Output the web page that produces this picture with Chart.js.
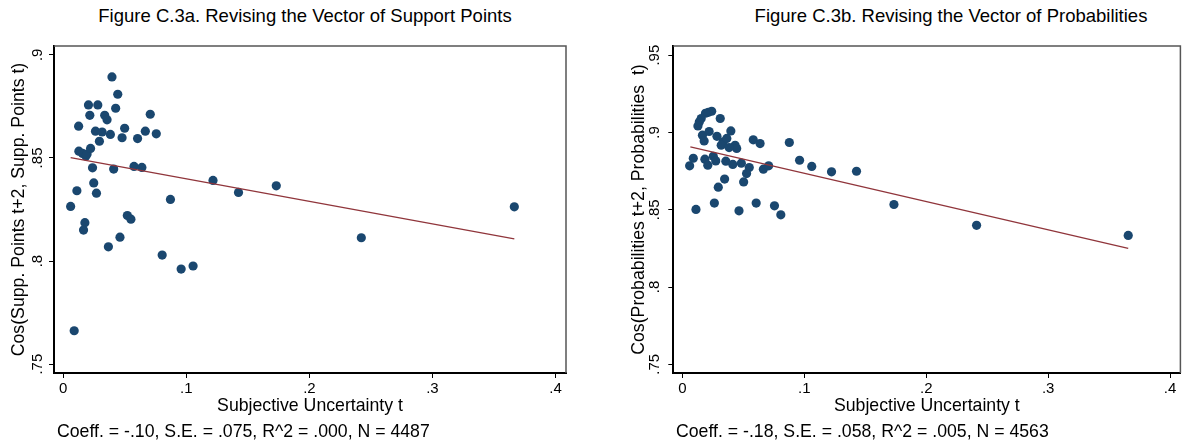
<!DOCTYPE html>
<html>
<head>
<meta charset="utf-8">
<script src="https://cdn.jsdelivr.net/npm/chart.js@4.4.0/dist/chart.umd.min.js"></script>
<style>
  body { margin: 0; width: 1185px; height: 444px; background: #fff; position: relative; overflow: hidden; font-family: "Liberation Sans", Arial, sans-serif; }
  .panel { position: absolute; top: 0; height: 444px; }
  .title { position: absolute; top: 5px; font-family: "Liberation Sans Narrow", "Liberation Sans", sans-serif; font-size: 18.5px; line-height: 22px; white-space: nowrap; transform: translateX(-50%); color: #000; }
  .note { position: absolute; top: 420.6px; font-size: 17.7px; line-height: 20px; white-space: nowrap; color: #000; }
</style>
</head>
<body>
<div class="title" style="left:305px">Figure C.3a. Revising the Vector of Support Points</div>
<div class="title" style="left:951px">Figure C.3b. Revising the Vector of Probabilities</div>
<div class="panel" style="left:0;width:600px"><canvas id="supportChart" width="600" height="444"></canvas></div>
<div class="panel" style="left:620px;width:565px"><canvas id="probChart" width="565" height="444"></canvas></div>
<div class="note" style="left:57px">Coeff. = -.10, S.E. = .075, R^2 = .000, N = 4487</div>
<div class="note" style="left:676px">Coeff. = -.18, S.E. = .058, R^2 = .005, N = 4563</div>

<script>
// Binned scatter: Subjective Uncertainty t (x) vs cosine similarity (y)
const xTicks = [0, 0.1, 0.2, 0.3, 0.4];
const xTickLabels = ["0", ".1", ".2", ".3", ".4"];

// Figure C.3a - support points
const supportX = [
  0.0396, 0.0443, 0.0205, 0.0281, 0.0426, 0.0707, 0.0216, 0.0337, 0.0356, 0.0125,
  0.0499, 0.0262, 0.0316, 0.0667, 0.0756, 0.0383, 0.0478, 0.0604, 0.0294,
  0.0127, 0.0157, 0.0184, 0.0194, 0.0222,
  0.0238, 0.0410, 0.0575, 0.0639,
  0.0248, 0.0111, 0.0270, 0.0871,
  0.0060, 0.0176, 0.0165, 0.0521, 0.0550, 0.0461, 0.0367, 0.0804, 0.0958, 0.1055, 0.0089,
  0.1217, 0.1424, 0.1731, 0.2422, 0.3665
];
const supportY = [
  0.8893, 0.8809, 0.8757, 0.8757, 0.8741, 0.8712, 0.8707, 0.8707, 0.8685, 0.8654,
  0.8644, 0.8630, 0.8626, 0.8630, 0.8617, 0.8614, 0.8598, 0.8594, 0.8581,
  0.8533, 0.8522, 0.8509, 0.8519, 0.8546,
  0.8452, 0.8446, 0.8459, 0.8454,
  0.8379, 0.8341, 0.8329, 0.8299,
  0.8265, 0.8186, 0.8150, 0.8221, 0.8203, 0.8116, 0.8069, 0.8029, 0.7961, 0.7976, 0.7662,
  0.8391, 0.8333, 0.8365, 0.8113, 0.8263
];
const supportFitX = [0.0060, 0.3665];
const supportFitY = [0.8502, 0.8108];
const supportYTicks = [0.75, 0.8, 0.85, 0.9];
const supportYTickLabels = [".75", ".8", ".85", ".9"];

// Figure C.3b - probabilities
const probX = [
  0.0240, 0.0213, 0.0189, 0.0154, 0.0138, 0.0127, 0.0310, 0.0164, 0.0178, 0.0219,
  0.0283, 0.0397, 0.0334, 0.0364, 0.0318, 0.0432, 0.0445, 0.0383, 0.0581, 0.0637,
  0.0877, 0.0089, 0.0059, 0.0184, 0.0208, 0.0253, 0.0273, 0.0356, 0.0413, 0.0483,
  0.0548, 0.0526, 0.0502, 0.0346, 0.0294, 0.0664, 0.0707, 0.0961, 0.1061, 0.1223,
  0.1428, 0.1735, 0.0111, 0.0262, 0.0464, 0.0605, 0.0755, 0.0807, 0.2413, 0.3657
];
const probY = [
  0.9137, 0.9130, 0.9124, 0.9090, 0.9068, 0.9042, 0.9090, 0.8982, 0.8945, 0.9006,
  0.8975, 0.9010, 0.8939, 0.8961, 0.8917, 0.8917, 0.8896, 0.8902, 0.8952, 0.8928,
  0.8935, 0.8833, 0.8784, 0.8827, 0.8788, 0.8846, 0.8816, 0.8814, 0.8793, 0.8801,
  0.8773, 0.8734, 0.8680, 0.8698, 0.8646, 0.8762, 0.8784, 0.8820, 0.8780, 0.8745,
  0.8749, 0.8534, 0.8502, 0.8543, 0.8493, 0.8543, 0.8525, 0.8467, 0.8399, 0.8334
];
const probFitX = [0.0065, 0.3657];
const probFitY = [0.8906, 0.8250];
const probYTicks = [0.75, 0.8, 0.85, 0.9, 0.95];
const probYTickLabels = [".75", ".8", ".85", ".9", ".95"];

const dotColor = "#1a476f";
const fitColor = "#90353b";
const axisFont = { family: "'Liberation Sans', Arial, sans-serif", size: 15 };
const titleFont = { family: "'Liberation Sans', Arial, sans-serif", size: 17.7 };

function toPoints(xs, ys) {
  return xs.map((x, i) => ({ x: x, y: ys[i] }));
}

function labelFor(ticks, labels, value) {
  const i = ticks.findIndex(t => Math.abs(t - value) < 1e-9);
  return i >= 0 ? labels[i] : "";
}

// thin frame on the top and right of the plot region
const frame = {
  id: "frame",
  afterDraw(chart) {
    const { ctx, chartArea: a } = chart;
    ctx.save();
    ctx.strokeStyle = "#555";
    ctx.lineWidth = 1.5;
    ctx.beginPath();
    ctx.moveTo(a.left, a.top);
    ctx.lineTo(a.right, a.top);
    ctx.lineTo(a.right, a.bottom);
    ctx.stroke();
    ctx.restore();
  }
};

function makeChart(id, cfg) {
  const ctx = document.getElementById(id).getContext("2d");
  return new Chart(ctx, {
    type: "scatter",
    data: {
      datasets: [
        {
          label: "fit",
          type: "line",
          data: toPoints(cfg.fitX, cfg.fitY),
          borderColor: fitColor,
          borderWidth: 1.3,
          pointRadius: 0,
          fill: false,
        },
        {
          label: "bins",
          data: toPoints(cfg.xs, cfg.ys),
          backgroundColor: dotColor,
          borderWidth: 0,
          pointRadius: 4.6,
        },
      ],
    },
    options: {
      responsive: false,
      animation: false,
      events: [],
      layout: { padding: { left: 0, top: 46, right: cfg.padRight, bottom: 21 } },
      plugins: { legend: { display: false }, tooltip: { enabled: false } },
      scales: {
        x: {
          type: "linear",
          min: -0.0075,
          max: 0.4085,
          afterBuildTicks: s => { s.ticks = xTicks.map(v => ({ value: v })); },
          afterFit: s => { s.height = 50; },
          grid: { drawOnChartArea: false, drawTicks: true, tickLength: 5, color: "#000" },
          border: { display: true, color: "#000", width: 2 },
          ticks: {
            color: "#000",
            font: axisFont,
            padding: 2,
            callback: v => labelFor(xTicks, xTickLabels, v),
          },
          title: { display: true, text: "Subjective Uncertainty t", color: "#000", font: titleFont, padding: { top: 0, bottom: 6 } },
        },
        y: {
          type: "linear",
          min: cfg.yMin,
          max: cfg.yMax,
          afterBuildTicks: s => { s.ticks = cfg.yTicks.map(v => ({ value: v })); },
          afterFit: s => { s.width = cfg.yWidth; },
          grid: { drawOnChartArea: false, drawTicks: true, tickLength: 5, color: "#000" },
          border: { display: true, color: "#000", width: 2 },
          ticks: {
            color: "#000",
            font: axisFont,
            padding: cfg.tickPad,
            minRotation: 90,
            maxRotation: 90,
            crossAlign: "center",
            callback: v => labelFor(cfg.yTicks, cfg.yTickLabels, v),
          },
          title: { display: true, text: cfg.yTitle, color: "#000", font: titleFont, padding: { top: 8.4, bottom: 0 } },
        },
      },
    },
    plugins: [frame],
  });
}

const supportChart = makeChart("supportChart", {
  xs: supportX, ys: supportY, fitX: supportFitX, fitY: supportFitY,
  yMin: 0.7457, yMax: 0.9043, yTicks: supportYTicks, yTickLabels: supportYTickLabels,
  yTitle: "Cos(Supp. Points t+2, Supp. Points t)",
  yWidth: 54, padRight: 34, tickPad: 1,
});

const probChart = makeChart("probChart", {
  xs: probX, ys: probY, fitX: probFitX, fitY: probFitY,
  yMin: 0.7444, yMax: 0.9559, yTicks: probYTicks, yTickLabels: probYTickLabels,
  yTitle: "Cos(Probabilities t+2, Probabilities  t)",
  yWidth: 53.3, padRight: 1, tickPad: 3,
});
</script>
</body>
</html>
